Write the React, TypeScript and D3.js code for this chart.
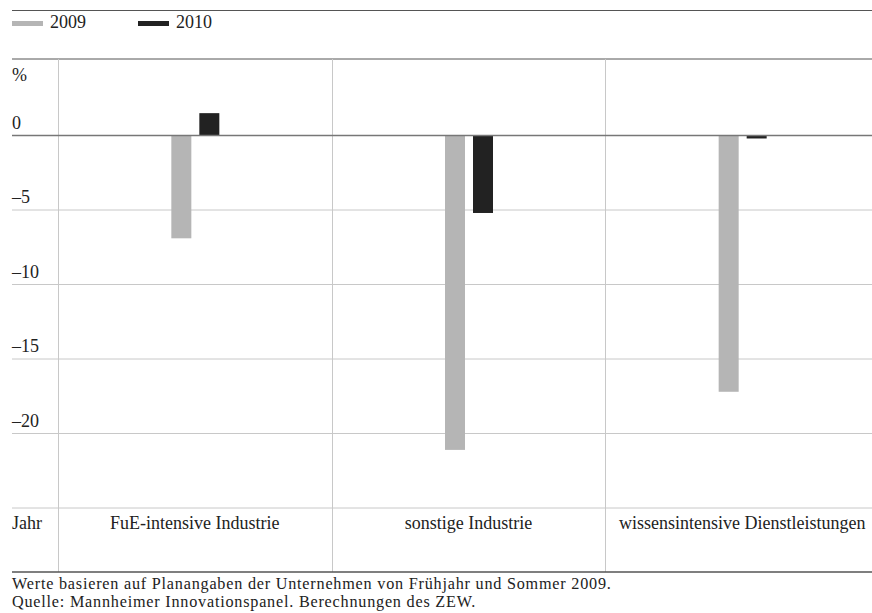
import React from "react";
import * as d3 from "d3";

const categories = ["FuE-intensive Industrie", "sonstige Industrie", "wissensintensive Dienstleistungen"];
const seriesNames = ["2009", "2010"];
const values2009 = [-6.9, -21.1, -17.2];
const values2010 = [1.5, -5.2, -0.2];
const yTicks = [0, -5, -10, -15, -20];
const colors = ["#b5b5b5", "#222222"];
const footnotes = [
  "Werte basieren auf Planangaben der Unternehmen von Frühjahr und Sommer 2009.",
  "Quelle: Mannheimer Innovationspanel. Berechnungen des ZEW.",
];

export default function App() {
  const W = 872, H = 613;
  const left = 12, plotLeft = 58, right = 872;
  const topLine = 59, bottomLine = 572;
  const y = d3.scaleLinear().domain([0, -25]).range([135.5, 508]);
  const x = d3.scaleBand().domain(categories).range([plotLeft, 879]).padding(0);
  const bw = 20;
  const font = "Liberation Serif";
  const fs = 18;
  const series = [values2009, values2010];
  const offsets = [-23.5, 4.5];
  return (
    <svg width={W} height={H} style={{ position: "absolute", left: 0, top: 0, background: "#fff" }} fontFamily={font}>
      <line x1={left} x2={right} y1={10.5} y2={10.5} stroke="#555" strokeWidth={1} />
      {seriesNames.map((s, i) => (
        <g key={s} transform={`translate(${left + i * 126},0)`}>
          <rect x={0} y={21} width={31} height={5} fill={colors[i]} />
          <text x={38} y={28} fontSize={fs} fill="#222">{s}</text>
        </g>
      ))}
      <line x1={left} x2={right} y1={topLine} y2={topLine} stroke="#555" strokeWidth={1} />
      {yTicks.slice(1).concat([-25]).map((t) => (
        <line key={t} x1={left} x2={right} y1={y(t)} y2={y(t)} stroke="#c8c8c8" strokeWidth={1} />
      ))}
      {[plotLeft, ...categories.slice(1).map((c) => x(c)!)].map((vx, i) => (
        <line key={i} x1={Math.round(vx) + 0.5} x2={Math.round(vx) + 0.5} y1={topLine} y2={bottomLine} stroke="#c8c8c8" strokeWidth={1} />
      ))}
      <text x={left} y={81} fontSize={fs} fill="#222">%</text>
      {yTicks.map((t) => (
        <text key={t} x={left} y={y(t) - 7} fontSize={fs} fill="#222">{t === 0 ? "0" : "–" + Math.abs(t)}</text>
      ))}
      {series.map((vals, si) =>
        vals.map((v, ci) => {
          const cx = x(categories[ci])! + x.bandwidth() / 2;
          return (
            <rect key={`${si}-${ci}`} x={cx + offsets[si]} width={bw}
              y={Math.min(y(v), y(0))} height={Math.abs(y(v) - y(0))} fill={colors[si]} />
          );
        })
      )}
      <line x1={left} x2={right} y1={y(0)} y2={y(0)} stroke="#777" strokeWidth={1.5} />
      <text x={left} y={529} fontSize={fs} fill="#222">Jahr</text>
      {categories.map((c) => (
        <text key={c} x={x(c)! + x.bandwidth() / 2} y={529} fontSize={fs} fill="#222" textAnchor="middle">{c}</text>
      ))}
      <line x1={left} x2={right} y1={bottomLine} y2={bottomLine} stroke="#555" strokeWidth={1.5} />
      {footnotes.map((f, i) => (
        <text key={i} x={left} y={589 + i * 18} fontSize={16.2} letterSpacing={0.78} fill="#222">{f}</text>
      ))}
    </svg>
  );
}
